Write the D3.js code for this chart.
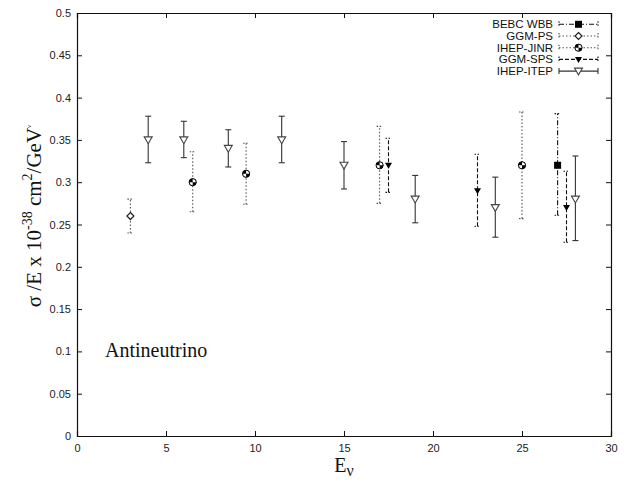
<!DOCTYPE html>
<html>
<head>
<meta charset="utf-8">
<script src="https://cdn.jsdelivr.net/npm/d3@7"></script>
<style>
  body { margin: 0; background: #fff; }
  .tick text { font-family: "Liberation Sans", Arial, sans-serif; font-size: 11px; fill: #222; }
  .serif { font-family: "Liberation Serif", "Times New Roman", serif; }
</style>
</head>
<body>
<div id="chart"></div>
<script>
const svgWidth = 624;
const svgHeight = 483;
const margin = { top: 13, right: 13, bottom: 47, left: 77 };
const width = svgWidth - margin.left - margin.right;
const height = svgHeight - margin.top - margin.bottom;

// tick values
const xTicks = [0, 5, 10, 15, 20, 25, 30];
const yTicks = [0, 0.05, 0.1, 0.15, 0.2, 0.25, 0.3, 0.35, 0.4, 0.45, 0.5];

// data (energy, sigma/E, lower and upper error)
const bebcE = [27];
const bebcSig = [0.32];
const bebcLo = [0.261];
const bebcHi = [0.381];

const ggmpsE = [3];
const ggmpsSig = [0.26];
const ggmpsLo = [0.24];
const ggmpsHi = [0.28];

const jinrE = [6.5, 9.5, 17, 25];
const jinrSig = [0.30, 0.31, 0.32, 0.32];
const jinrLo = [0.265, 0.274, 0.275, 0.257];
const jinrHi = [0.336, 0.346, 0.366, 0.383];

const ggmspsE = [17.5, 22.5, 27.5];
const ggmspsSig = [0.32, 0.29, 0.27];
const ggmspsLo = [0.288, 0.248, 0.229];
const ggmspsHi = [0.352, 0.333, 0.313];

const itepE = [4, 6, 8.5, 11.5, 15, 19, 23.5, 28];
const itepSig = [0.35, 0.35, 0.34, 0.35, 0.32, 0.28, 0.27, 0.28];
const itepLo = [0.323, 0.329, 0.318, 0.323, 0.292, 0.252, 0.235, 0.231];
const itepHi = [0.378, 0.372, 0.362, 0.378, 0.348, 0.308, 0.306, 0.331];

function rows(e, s, lo, hi) {
    return e.map((d, i) => ({ e: d, s: s[i], lo: lo[i], hi: hi[i] }));
}

// legend order matches the picture
const series = [
    { name: "BEBC WBB", data: rows(bebcE, bebcSig, bebcLo, bebcHi), dash: "5,2,1,2", color: "#111", marker: "square" },
    { name: "GGM-PS", data: rows(ggmpsE, ggmpsSig, ggmpsLo, ggmpsHi), dash: "1.5,2", color: "#555", marker: "diamond" },
    { name: "IHEP-JINR", data: rows(jinrE, jinrSig, jinrLo, jinrHi), dash: "1.5,2", color: "#555", marker: "quartered" },
    { name: "GGM-SPS", data: rows(ggmspsE, ggmspsSig, ggmspsLo, ggmspsHi), dash: "4,2", color: "#111", marker: "tridown" },
    { name: "IHEP-ITEP", data: rows(itepE, itepSig, itepLo, itepHi), dash: null, color: "#333", marker: "opentri" }
];

const svg = d3.select("#chart")
    .append("svg")
    .attr("width", svgWidth)
    .attr("height", svgHeight);

const chartGroup = svg.append("g")
    .attr("transform", `translate(${margin.left}, ${margin.top})`);

const xScale = d3.scaleLinear().domain([0, 30]).range([0, width]);
const yScale = d3.scaleLinear().domain([0, 0.5]).range([height, 0]);

// axes, gnuplot style: ticks inward on all four sides
chartGroup.append("g")
    .attr("transform", `translate(0, ${height})`)
    .call(d3.axisBottom(xScale).tickValues(xTicks).tickSize(-5).tickPadding(8).tickFormat(d3.format("d")));
chartGroup.append("g")
    .call(d3.axisTop(xScale).tickValues(xTicks).tickSize(-5).tickFormat(""));
chartGroup.append("g")
    .call(d3.axisLeft(yScale).tickValues(yTicks).tickSize(-5).tickPadding(6).tickFormat(d => String(+d.toFixed(2))));
chartGroup.append("g")
    .attr("transform", `translate(${width}, 0)`)
    .call(d3.axisRight(yScale).tickValues(yTicks).tickSize(-5).tickFormat(""));

chartGroup.selectAll(".domain").attr("stroke", "#111").attr("stroke-width", 1.2);
chartGroup.selectAll(".tick line").attr("stroke", "#111");

// marker drawing
function drawMarker(g, type) {
    if (type === "square") {
        g.append("rect").attr("x", -3.5).attr("y", -3.5).attr("width", 7).attr("height", 7).attr("fill", "#000");
    } else if (type === "diamond") {
        g.append("path").attr("d", "M0,-3.5L3.5,0L0,3.5L-3.5,0Z").attr("fill", "#fff").attr("stroke", "#222").attr("stroke-width", 1.2);
    } else if (type === "quartered") {
        g.append("circle").attr("r", 3.6).attr("fill", "#000");
        g.append("path").attr("d", "M0,0L3.6,0A3.6,3.6 0 0,0 0,-3.6Z").attr("fill", "#fff");
        g.append("path").attr("d", "M0,0L-3.6,0A3.6,3.6 0 0,0 0,3.6Z").attr("fill", "#fff");
        g.append("circle").attr("r", 3.6).attr("fill", "none").attr("stroke", "#000").attr("stroke-width", 1);
    } else if (type === "tridown") {
        g.append("path").attr("d", "M-3.5,-2.5L3.5,-2.5L0,3.5Z").attr("fill", "#000");
    } else if (type === "opentri") {
        g.append("path").attr("d", "M-4,-3L4,-3L0,3.8Z").attr("fill", "#fff").attr("stroke", "#444").attr("stroke-width", 1.1);
    }
}

// error bars and points
series.forEach(s => {
    const g = chartGroup.append("g");
    s.data.forEach(d => {
        const x = xScale(d.e);
        g.append("line")
            .attr("x1", x).attr("x2", x)
            .attr("y1", yScale(d.lo)).attr("y2", yScale(d.hi))
            .attr("stroke", s.color).attr("stroke-width", 1.1)
            .attr("stroke-dasharray", s.dash);
        [d.lo, d.hi].forEach(v => {
            g.append("line")
                .attr("x1", x - 3).attr("x2", x + 3)
                .attr("y1", yScale(v)).attr("y2", yScale(v))
                .attr("stroke", s.color).attr("stroke-width", 1.1)
                .attr("stroke-dasharray", s.dash ? "1.5,1.5" : null);
        });
        const m = g.append("g").attr("transform", `translate(${x}, ${yScale(d.s)})`);
        drawMarker(m, s.marker);
    });
});

// legend, top right inside the frame
const legend = chartGroup.append("g").attr("transform", `translate(${476 - margin.left}, 0)`);
series.forEach((s, i) => {
    const y = 24.3 - margin.top + i * 11.7;
    const row = legend.append("g").attr("transform", `translate(0, ${y})`);
    row.append("text")
        .attr("x", 553 - 476)
        .attr("y", 4)
        .attr("text-anchor", "end")
        .style("font-family", "Liberation Sans, Arial, sans-serif")
        .style("font-size", "11.5px")
        .attr("fill", "#111")
        .text(s.name);
    const x0 = 559 - 476, x1 = 598 - 476;
    row.append("line").attr("x1", x0).attr("x2", x1).attr("y1", 0).attr("y2", 0)
        .attr("stroke", s.color).attr("stroke-width", 1.1).attr("stroke-dasharray", s.dash);
    [x0, x1].forEach(x => {
        row.append("line").attr("x1", x).attr("x2", x).attr("y1", -3).attr("y2", 3)
            .attr("stroke", s.color).attr("stroke-width", 1.1)
            .attr("stroke-dasharray", s.dash ? "1.5,1.5" : null);
    });
    const m = row.append("g").attr("transform", `translate(${(x0 + x1) / 2}, 0)`);
    drawMarker(m, s.marker);
});

// in-plot note
chartGroup.append("text")
    .attr("class", "serif")
    .attr("x", 105 - margin.left)
    .attr("y", 357 - margin.top)
    .style("font-size", "20px")
    .attr("fill", "#111")
    .text("Antineutrino");

// x axis label
const xLabel = chartGroup.append("text")
    .attr("class", "serif")
    .attr("x", width / 2)
    .attr("y", height + 36)
    .attr("text-anchor", "middle")
    .style("font-size", "20px")
    .attr("fill", "#111");
xLabel.append("tspan").text("E");
xLabel.append("tspan").attr("dy", 4).style("font-size", "16px").text("ν");

// y axis label
const yLabel = svg.append("text")
    .attr("class", "serif")
    .attr("transform", "translate(41, 216) rotate(-90)")
    .attr("text-anchor", "middle")
    .style("font-size", "21px")
    .attr("fill", "#111");
yLabel.append("tspan").text("σ /E x 10");
yLabel.append("tspan").attr("dy", -9).style("font-size", "14px").text("-38");
yLabel.append("tspan").attr("dy", 9).text(" cm");
yLabel.append("tspan").attr("dy", -9).style("font-size", "14px").text("2");
yLabel.append("tspan").attr("dy", 9).text("/GeV");
yLabel.append("tspan").attr("dy", -10).style("font-size", "7px").text("ν");
</script>
</body>
</html>
